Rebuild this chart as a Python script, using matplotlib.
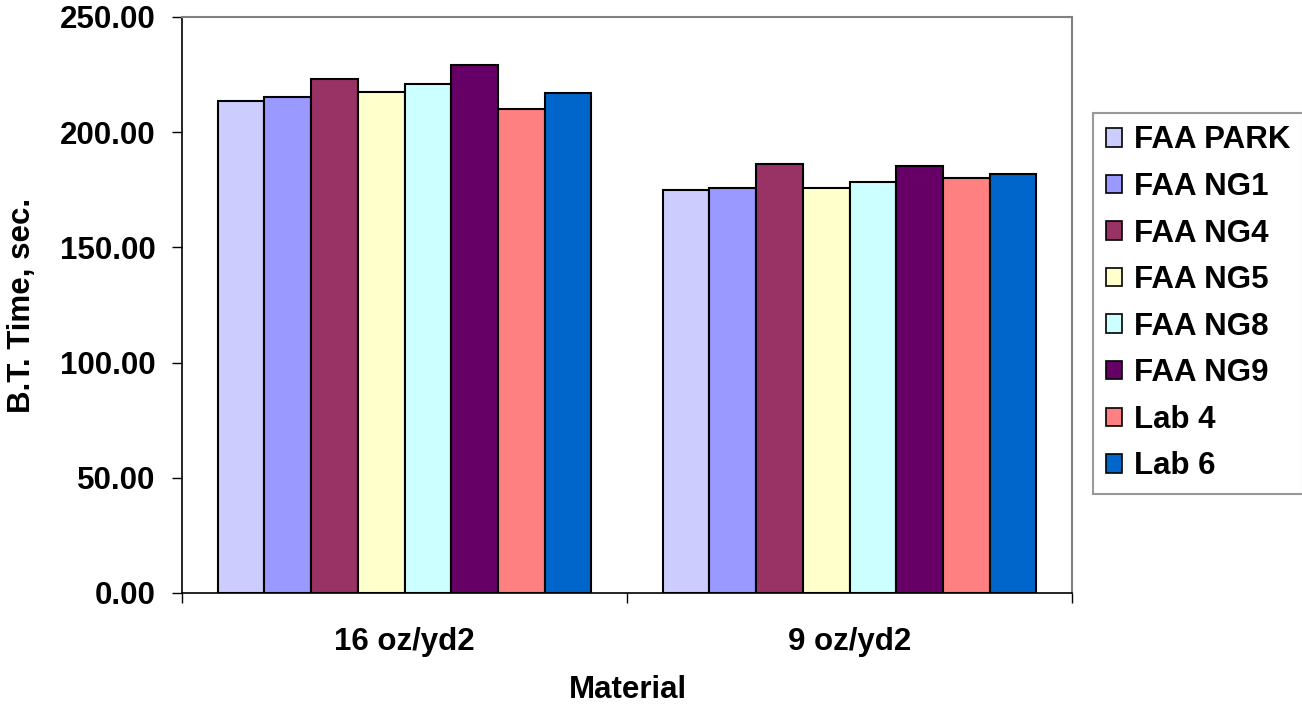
import numpy as np
import matplotlib.pyplot as plt
from matplotlib.patches import Patch

plt.rcParams['font.family'] = ['Liberation Sans', 'DejaVu Sans']
plt.rcParams['font.weight'] = 'bold'

# data
materials = ["16 oz/yd2", "9 oz/yd2"]
labs = ["FAA PARK", "FAA NG1", "FAA NG4", "FAA NG5", "FAA NG8", "FAA NG9", "Lab 4", "Lab 6"]
bt_16oz = [213.7, 215.4, 223.1, 217.3, 220.8, 229.2, 210.2, 217.2]
bt_9oz = [175.0, 175.9, 186.2, 175.8, 178.4, 185.5, 180.1, 182.0]
colors = ["#CCCCFF", "#9999FF", "#993366", "#FFFFCC", "#CCFFFF", "#660066", "#FF8080", "#0066CC"]

values = np.array([bt_16oz, bt_9oz])
fs = 22.5

fig = plt.figure(figsize=(13.02, 7.04), dpi=100)
ax = fig.add_axes([182 / 1302, 1 - 593 / 704, 890 / 1302, 576 / 704])

n = len(labs)
w = 0.84 / n
x = np.arange(len(materials))
for i in range(n):
    ax.bar(x - 0.42 + w * (i + 0.5), values[:, i], width=w, color=colors[i],
           edgecolor="black", linewidth=1.5, label=labs[i])

ax.set_xlim(-0.5, 1.5)
ax.set_ylim(0, 250)
ax.set_yticks(np.arange(0, 251, 50))
ax.set_yticklabels(["%.2f" % v for v in np.arange(0, 251, 50)], fontsize=fs, fontweight="bold")
ax.set_xticks([-0.5, 0.5, 1.5])
ax.set_xticklabels([])
ax.set_xticks(x, minor=True)
ax.set_xticklabels(materials, minor=True, fontsize=fs, fontweight="bold")
ax.tick_params(axis="x", which="minor", length=0, pad=24.5)
ax.tick_params(axis="x", which="major", direction="out", length=7, width=1, color="black")
ax.tick_params(axis="y", direction="out", length=7, width=1, pad=12)

for s in ["top", "right"]:
    ax.spines[s].set_color("#808080")
    ax.spines[s].set_linewidth(1.5)
for s in ["left", "bottom"]:
    ax.spines[s].set_color("black")
    ax.spines[s].set_linewidth(1.2)

fig.text(22 / 1302, 1 - 305 / 704, "B.T. Time, sec.", rotation=90, ha="center", va="center",
         fontsize=fs, fontweight="bold")
fig.text(628 / 1302, 1 - 690 / 704, "Material", ha="center", va="center",
         fontsize=fs, fontweight="bold")

handles = [Patch(facecolor=c, edgecolor="black", linewidth=1.2) for c in colors]
leg = fig.legend(handles, labs, loc="upper left", bbox_to_anchor=(1093 / 1302, 1 - 113 / 704),
                 fontsize=fs, frameon=True, fancybox=False, handlelength=0.53, handleheight=0.53,
                 handletextpad=0.38, labelspacing=0.53, borderpad=0.4, borderaxespad=0)
leg.get_frame().set_edgecolor("#808080")
leg.get_frame().set_linewidth(1.5)
for t in leg.get_texts():
    t.set_fontweight("bold")

fig.savefig("out.png", dpi=100)
